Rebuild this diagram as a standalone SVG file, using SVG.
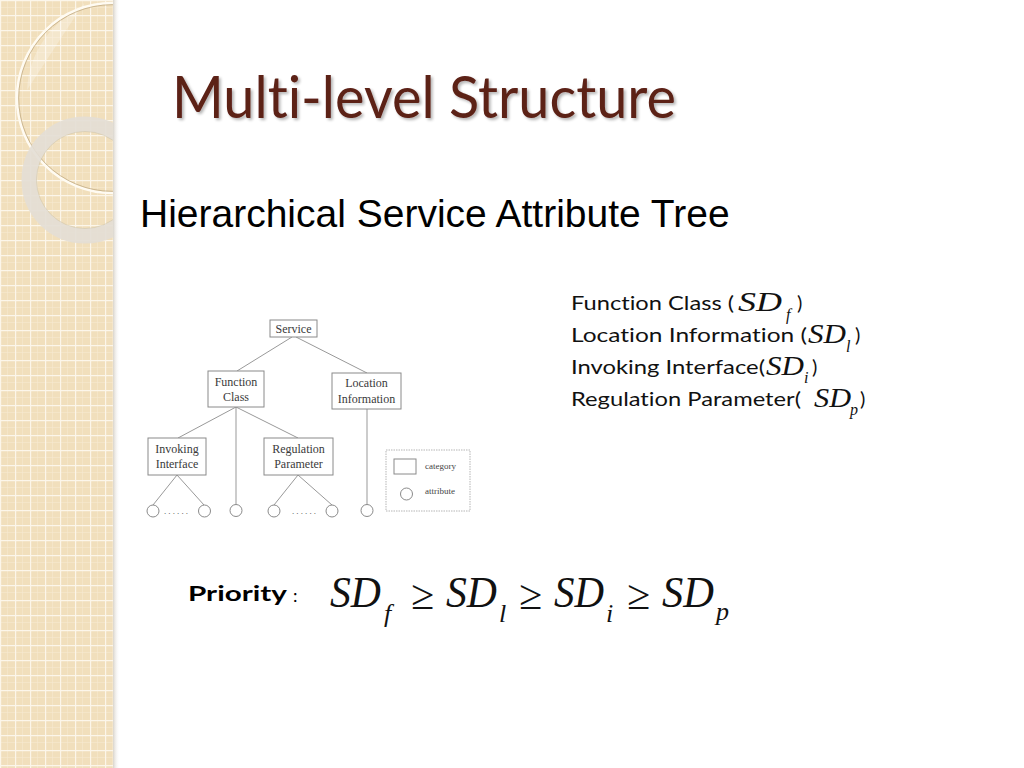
<svg xmlns="http://www.w3.org/2000/svg" width="1024" height="768" viewBox="0 0 1024 768">
<defs>
<pattern id="grid" x="0" y="0" width="15" height="15" patternUnits="userSpaceOnUse">
<rect width="15" height="15" fill="#F1DFBC"/>
<path d="M7.5 0V15M0 7.5H15" stroke="#F6E9D0" stroke-width="0.6"/>
<path d="M0.6 0V15M0 0.6H15" stroke="#FCF6EA" stroke-width="1.2"/>
</pattern>
<linearGradient id="edge" x1="0" y1="0" x2="1" y2="0">
<stop offset="0" stop-color="#c9c2b5" stop-opacity="0.7"/>
<stop offset="1" stop-color="#ffffff" stop-opacity="0"/>
</linearGradient>
<clipPath id="strip"><rect x="0" y="0" width="113" height="768"/></clipPath>
<filter id="sh" x="-5%" y="-20%" width="110%" height="140%">
<feGaussianBlur in="SourceAlpha" stdDeviation="1.5"/>
<feOffset dx="2" dy="2" result="b"/>
<feComponentTransfer><feFuncA type="linear" slope="0.3"/></feComponentTransfer>
<feMerge><feMergeNode/><feMergeNode in="SourceGraphic"/></feMerge>
</filter>
</defs>
<style>
text{font-variant-ligatures:none}
.box{fill:#fff;stroke:#8a8a8a;stroke-width:1}
.att{fill:#fff;stroke:#8a8a8a;stroke-width:1}
.ln{stroke:#999;stroke-width:1;fill:none}
.tt{font-family:"Liberation Serif",serif;font-size:12px;fill:#3a3a3a;text-anchor:middle}
.lg{font-family:"Liberation Serif",serif;font-size:9px;fill:#444}
.gs{font-family:Lato,"Open Sans",sans-serif;font-size:20px;fill:#111}
.m{font-family:"Liberation Serif",serif;font-style:italic;fill:#111}
.op{font-family:"Liberation Serif",serif;fill:#111}
</style>
<rect width="1024" height="768" fill="#fff"/>
<!-- left decorative strip -->
<g id="strip-bg">
<rect x="0" y="0" width="113" height="768" fill="url(#grid)"/>
<rect x="113" y="0" width="7" height="768" fill="url(#edge)"/>
<g clip-path="url(#strip)">
<path d="M84 3 L27 90 A95 95 0 0 1 84 7 Z" fill="#fff" fill-opacity="0.25"/>
<circle cx="112" cy="98" r="95" fill="none" stroke="#FFFBF2" stroke-width="2.5"/>
<circle cx="112" cy="98" r="93.3" fill="none" stroke="#B49C72" stroke-width="0.9" stroke-opacity="0.7"/>
<circle cx="85" cy="180" r="56" fill="none" stroke="#E3DED5" stroke-width="15" stroke-opacity="0.9"/>
<circle cx="85" cy="180" r="48.5" fill="none" stroke="#C9BFA8" stroke-width="0.8" stroke-opacity="0.6"/>
</g>
</g>
<!-- title -->
<text x="172" y="118" font-family="Lato,'Open Sans',sans-serif" font-size="58" fill="#5C2017" textLength="504" lengthAdjust="spacingAndGlyphs" filter="url(#sh)">Multi-level Structure</text>
<text x="140" y="227" font-family="'Liberation Sans',Arial,sans-serif" font-size="39" fill="#000">Hierarchical Service Attribute Tree</text>
<!-- connectors -->
<g id="connectors">
<path class="ln" d="M292 337L237 371M296 337L367 373"/>
<path class="ln" d="M236 407L178 438M236 407L298 438M236 407V504.5"/>
<path class="ln" d="M177 475L153 505M177 475L204 505"/>
<path class="ln" d="M298 475L274 505M298 475L332 505"/>
<path class="ln" d="M367 409V505"/>
</g>
<!-- nodes -->
<g id="n-service"><rect class="box" x="270" y="320" width="47" height="17"/><text class="tt" x="293.5" y="333">Service</text></g>
<g id="n-function"><rect class="box" x="208" y="371" width="56" height="36"/><text class="tt" x="236" y="385.5">Function</text><text class="tt" x="236" y="400.5">Class</text></g>
<g id="n-location"><rect class="box" x="332" y="373" width="69" height="36"/><text class="tt" x="366.5" y="387">Location</text><text class="tt" x="366.5" y="403">Information</text></g>
<g id="n-invoking"><rect class="box" x="148" y="438" width="58" height="37"/><text class="tt" x="177" y="453">Invoking</text><text class="tt" x="177" y="468">Interface</text></g>
<g id="n-regulation"><rect class="box" x="264" y="438" width="69" height="37"/><text class="tt" x="298.5" y="453">Regulation</text><text class="tt" x="298.5" y="468">Parameter</text></g>
<g id="attrs">
<circle class="att" cx="153" cy="511" r="6"/>
<circle class="att" cx="204.5" cy="511" r="6"/>
<circle class="att" cx="236" cy="510.5" r="6"/>
<circle class="att" cx="274" cy="511" r="6"/>
<circle class="att" cx="332" cy="511" r="6"/>
<circle class="att" cx="367" cy="510.5" r="6"/>
<text class="lg" x="164" y="514" font-size="10" textLength="24">......</text>
<text class="lg" x="292" y="514" font-size="10" textLength="24">......</text>
</g>
<g id="legend">
<rect x="386" y="450" width="84" height="61" fill="#fff" stroke="#b5b5b5" stroke-width="1" stroke-dasharray="1.5 1"/>
<rect class="box" x="394" y="459" width="22" height="15"/>
<text class="lg" x="425" y="469">category</text>
<circle class="att" cx="406.5" cy="494" r="6"/>
<text class="lg" x="425" y="494">attribute</text>
</g>
<!-- right list -->
<g id="list">
<text class="gs" x="571" y="310" textLength="163" lengthAdjust="spacingAndGlyphs">Function Class (</text>
<text class="m" x="738" y="311" font-size="28" textLength="44" lengthAdjust="spacingAndGlyphs">SD</text>
<text class="m" x="786" y="320" font-size="16">f</text>
<text class="gs" x="797" y="310">)</text>
<text class="gs" x="571" y="342" textLength="236" lengthAdjust="spacingAndGlyphs">Location Information (</text>
<text class="m" x="808" y="343" font-size="28" textLength="38" lengthAdjust="spacingAndGlyphs">SD</text>
<text class="m" x="846" y="352" font-size="16">l</text>
<text class="gs" x="855" y="342">)</text>
<text class="gs" x="571" y="374" textLength="194" lengthAdjust="spacingAndGlyphs">Invoking Interface(</text>
<text class="m" x="766" y="375" font-size="28" textLength="38" lengthAdjust="spacingAndGlyphs">SD</text>
<text class="m" x="804" y="383" font-size="16">i</text>
<text class="gs" x="812" y="374">)</text>
<text class="gs" x="571" y="406" textLength="230" lengthAdjust="spacingAndGlyphs">Regulation Parameter(</text>
<text class="m" x="814" y="407" font-size="28" textLength="37" lengthAdjust="spacingAndGlyphs">SD</text>
<text class="m" x="850" y="415" font-size="16">p</text>
<text class="gs" x="860" y="406">)</text>
</g>
<!-- priority -->
<g id="priority">
<text x="188" y="601" font-family="Lato,'Open Sans',sans-serif" font-weight="bold" font-size="21" fill="#000" textLength="99" lengthAdjust="spacingAndGlyphs">Priority</text>
<text x="293" y="602" font-family="Lato,'Open Sans',sans-serif" font-size="18" fill="#000">:</text>
<text class="m" x="330" y="607" font-size="44" textLength="51" lengthAdjust="spacingAndGlyphs">SD</text>
<text class="m" x="384" y="622" font-size="26">f</text>
<text class="op" x="411" y="609" font-size="42">≥</text>
<text class="m" x="446" y="607" font-size="44" textLength="51" lengthAdjust="spacingAndGlyphs">SD</text>
<text class="m" x="499" y="622" font-size="26">l</text>
<text class="op" x="519" y="609" font-size="42">≥</text>
<text class="m" x="554" y="607" font-size="44" textLength="50" lengthAdjust="spacingAndGlyphs">SD</text>
<text class="m" x="606" y="622" font-size="26">i</text>
<text class="op" x="627" y="609" font-size="42">≥</text>
<text class="m" x="662" y="607" font-size="44" textLength="52" lengthAdjust="spacingAndGlyphs">SD</text>
<text class="m" x="716" y="620" font-size="26">p</text>
</g>
</svg>
